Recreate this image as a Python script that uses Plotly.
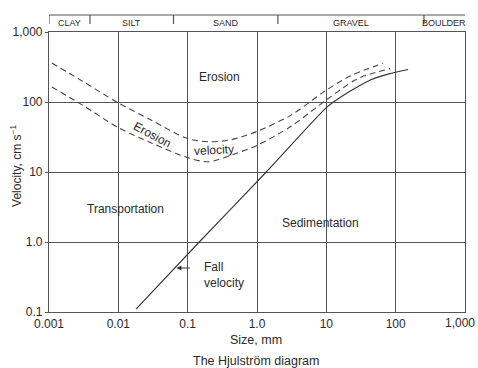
import numpy as np
import plotly.graph_objects as go

# Erosion velocity envelope (upper and lower dashed curves): size in mm, velocity cm/s
upper_size = [0.0011, 0.003, 0.01, 0.03, 0.1, 0.21, 0.43, 1.0, 3.1, 10, 22, 38.5, 66]
upper_vel = [360, 200, 97, 55, 30, 27, 29, 38, 65, 148, 235, 295, 357]

lower_size = [0.0011, 0.003, 0.01, 0.03, 0.1, 0.2, 0.43, 1.0, 3.1, 10, 26, 38.5, 83]
lower_vel = [164, 91, 43, 26, 16, 14, 17.5, 24, 45, 107, 206, 243, 300]

# Fall velocity (solid)
fall_size = [0.018, 0.147, 1.36, 10, 15, 26, 43, 80, 151]
fall_vel = [0.11, 1.0, 10, 83, 112, 157, 206, 252, 292]

# Axis ticks
x_tickvals = [0.001, 0.01, 0.1, 1, 10, 100, 1000]
x_ticktext = ["0.001", "0.01", "0.1", "1.0", "10", "100", "1,000"]
y_tickvals = [0.1, 1, 10, 100, 1000]
y_ticktext = ["0.1", "1.0", "10", "100", "1,000"]

# Grain size classes
class_names = ["CLAY", "SILT", "SAND", "GRAVEL", "BOULDER"]
class_bounds = [0.001, 0.0039, 0.0625, 2, 256, 1000]

# Region labels
region_text = ["Erosion", "Erosion", "velocity", "Transportation", "Sedimentation"]
region_x = [0.29, 0.0313, 0.24, 0.0125, 8.3]
region_y = [228, 33.8, 20.6, 2.96, 1.87]
region_angle = [0, 28, -3, 0, 0]

FONT = "Liberation Sans, Arial, Helvetica, sans-serif"
TXT = "#2a2a2a"
GRID = "#555555"

fig = go.Figure()
fig.add_trace(go.Scatter(x=upper_size, y=upper_vel, mode="lines",
                         line=dict(color="#444", width=1.1, dash="6px,4px", shape="spline", smoothing=0.8),
                         hoverinfo="skip", showlegend=False))
fig.add_trace(go.Scatter(x=lower_size, y=lower_vel, mode="lines",
                         line=dict(color="#444", width=1.1, dash="6px,4px", shape="spline", smoothing=0.8),
                         hoverinfo="skip", showlegend=False))
fig.add_trace(go.Scatter(x=fall_size, y=fall_vel, mode="lines",
                         line=dict(color="#333", width=1.1, shape="spline", smoothing=0.6),
                         hoverinfo="skip", showlegend=False))

annotations = []
for t, x, y, a in zip(region_text, region_x, region_y, region_angle):
    annotations.append(dict(x=np.log10(x), y=np.log10(y), xref="x", yref="y", text=t,
                            showarrow=False, textangle=a,
                            font=dict(family=FONT, size=12, color=TXT)))

# Fall velocity label with arrow
annotations.append(dict(x=np.log10(0.162), y=np.log10(0.338), xref="x", yref="y",
                        text="Fall<br>velocity", align="left", xanchor="left",
                        showarrow=False, font=dict(family=FONT, size=12, color=TXT)))
annotations.append(dict(x=np.log10(0.0689), y=np.log10(0.425), xref="x", yref="y",
                        text="", showarrow=True, ax=15, ay=0, arrowhead=2,
                        arrowsize=1, arrowwidth=1, arrowcolor="#333"))

# Last x tick label drawn as annotation so it stays inside the page
annotations.append(dict(x=np.log10(x_tickvals[-1]), y=0, xref="x", yref="paper",
                        text=x_ticktext[-1], showarrow=False, yanchor="top",
                        xshift=-5, yshift=-2,
                        font=dict(family=FONT, size=12, color=TXT)))
x_ticktext_axis = x_ticktext[:-1] + [""]

# Grain class labels
for i, name in enumerate(class_names):
    mid = (np.log10(class_bounds[i]) + np.log10(class_bounds[i + 1])) / 2
    annotations.append(dict(x=mid, y=1.032, xref="x", yref="paper", text=name,
                            showarrow=False, yanchor="middle",
                            font=dict(family=FONT, size=9, color=TXT)))

# Axis titles and caption
annotations.append(dict(x=-0.078, y=0.52, xref="paper", yref="paper", xanchor="center",
                        yanchor="middle",
                        text="Velocity, cm s<sup>−1</sup>", textangle=-90, showarrow=False,
                        font=dict(family=FONT, size=12, color=TXT)))
annotations.append(dict(x=0.498, y=-0.1, xref="paper", yref="paper", text="Size, mm",
                        showarrow=False, yanchor="middle", xanchor="center",
                        font=dict(family=FONT, size=12.5, color=TXT)))
annotations.append(dict(x=0.498, y=-0.175, xref="paper", yref="paper",
                        text="The Hjulström diagram", showarrow=False, yanchor="middle",
                        xanchor="center",
                        font=dict(family=FONT, size=12.5, color=TXT)))

shapes = [dict(type="line", xref="x", yref="paper", x0=class_bounds[0], x1=class_bounds[-1],
               y0=1.0607, y1=1.0607, line=dict(color=GRID, width=1.2))]
for b in class_bounds[:-1]:
    shapes.append(dict(type="line", xref="x", yref="paper", x0=b, x1=b,
                       y0=1.0286, y1=1.0607, line=dict(color=GRID, width=1.2)))

axis_common = dict(type="log", showgrid=True, gridcolor=GRID, gridwidth=1,
                   showline=True, linecolor=GRID, linewidth=1.2, mirror=True,
                   zeroline=False, tickfont=dict(family=FONT, size=12, color=TXT))

fig.update_layout(
    width=478, height=368,
    margin=dict(l=45, r=12, t=32, b=56),
    paper_bgcolor="white", plot_bgcolor="white",
    xaxis=dict(range=[-3, 3], tickvals=x_tickvals, ticktext=x_ticktext_axis,
               ticks="", **axis_common),
    yaxis=dict(range=[-1, 3], tickvals=y_tickvals, ticktext=y_ticktext,
               ticks="outside", ticklen=3, tickcolor=GRID, **axis_common),
    annotations=annotations, shapes=shapes,
    showlegend=False,
)

fig.write_html("out.html", config={"displayModeBar": False},
               post_script="document.body.style.margin='0';")
